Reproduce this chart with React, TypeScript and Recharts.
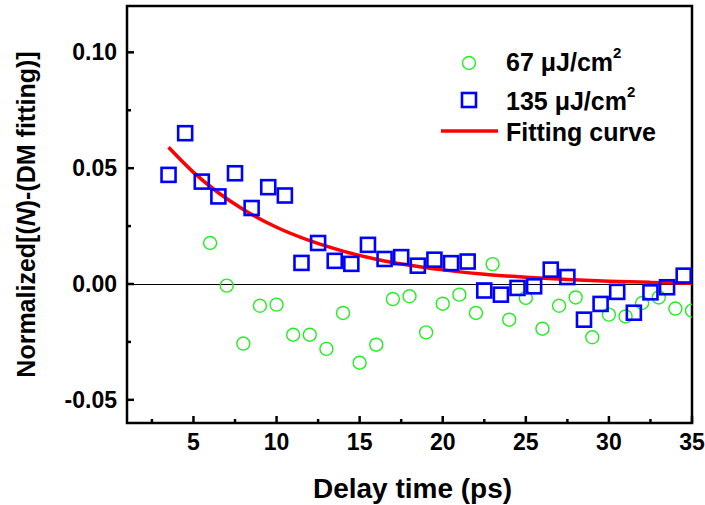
import React from 'react';
import { ComposedChart, XAxis, YAxis, Scatter, Line, ReferenceLine, ReferenceArea, Legend, Label } from 'recharts';

// ---- data ----
const lowFluenceX = [6, 7, 8, 9, 10, 11, 12, 13, 14, 15, 16, 17, 18, 19, 20, 21, 22, 23, 24, 25, 26, 27, 28, 29, 30, 31, 32, 33, 34, 35];
const lowFluenceY = [0.0177, -0.0007, -0.0257, -0.0094, -0.0089, -0.0219, -0.0219, -0.028, -0.0125, -0.034, -0.0262, -0.0065, -0.0053, -0.0209, -0.0085, -0.0046, -0.0125, 0.0086, -0.0154, -0.006, -0.0193, -0.0094, -0.0058, -0.023, -0.0132, -0.014, -0.0082, -0.0058, -0.0106, -0.0115];

const highFluenceX = [3.5, 4.5, 5.5, 6.5, 7.5, 8.5, 9.5, 10.5, 11.5, 12.5, 13.5, 14.5, 15.5, 16.5, 17.5, 18.5, 19.5, 20.5, 21.5, 22.5, 23.5, 24.5, 25.5, 26.5, 27.5, 28.5, 29.5, 30.5, 31.5, 32.5, 33.5, 34.5];
const highFluenceY = [0.0471, 0.0651, 0.0442, 0.0378, 0.0478, 0.0328, 0.0418, 0.0382, 0.0091, 0.0177, 0.01, 0.0087, 0.0169, 0.0108, 0.0116, 0.0079, 0.0105, 0.009, 0.0097, -0.0028, -0.0046, -0.0017, -0.001, 0.0062, 0.003, -0.0154, -0.0086, -0.0034, -0.0124, -0.0036, -0.0014, 0.0036];

const fitX = [3.5, 5, 6.5, 8, 10, 12, 14, 16, 18, 20, 22.5, 25, 27.5, 30, 32.5, 35];
const fitY = [0.059, 0.0482, 0.0394, 0.0322, 0.0245, 0.0187, 0.0142, 0.0107, 0.0081, 0.0061, 0.0042, 0.0029, 0.0019, 0.0012, 0.0007, 0.0003];

const xTicks = [2.5, 5, 7.5, 10, 12.5, 15, 17.5, 20, 22.5, 25, 27.5, 30, 32.5, 35];
const yTicks = [-0.05, -0.025, 0, 0.025, 0.05, 0.075, 0.1];
const xDomain = [1, 35];
const yDomain = [-0.06, 0.12];

const legendLabels = ['67 \u03bcJ/cm', '135 \u03bcJ/cm', 'Fitting curve'];
const xTitle = 'Delay time (ps)';

const zip = (xs: number[], ys: number[]) => xs.map((x, i) => ({ x, y: ys[i] }));
const lowData = zip(lowFluenceX, lowFluenceY);
const highData = zip(highFluenceX, highFluenceY);
const fitData = zip(fitX, fitY);

const FONT = '"Liberation Sans", Arial, Helvetica, sans-serif';
const GREEN = '#22ee22';
const BLUE = '#0000ff';
const RED = '#ff0000';

const isMajorX = (v: number) => Math.abs(v / 5 - Math.round(v / 5)) < 1e-9;
const isMajorY = (v: number) => Math.abs(v * 20 - Math.round(v * 20)) < 1e-9;

const XTick = (props: any) => {
  const { x, y, payload } = props;
  const v = payload.value;
  const major = isMajorX(v);
  return (
    <g>
      <line x1={x} x2={x} y1={y} y2={y - (major ? 7 : 4)} stroke="#000" strokeWidth={2.5} />
      {major && (
        <text x={x} y={y + 27} textAnchor="middle" fontFamily={FONT} fontWeight="bold" fontSize={23} fill="#000">
          {String(v)}
        </text>
      )}
    </g>
  );
};

const YTick = (props: any) => {
  const { x, y, payload } = props;
  const v = payload.value;
  const major = isMajorY(v);
  return (
    <g>
      <line x1={x} x2={x + (major ? 7 : 4)} y1={y} y2={y} stroke="#000" strokeWidth={2.5} />
      {major && (
        <text x={x - 10} y={y + 8} textAnchor="end" fontFamily={FONT} fontWeight="bold" fontSize={23} fill="#000">
          {v.toFixed(2)}
        </text>
      )}
    </g>
  );
};

const CircleShape = (props: any) => {
  const { cx, cy } = props;
  if (cx == null || cy == null) return null;
  return <circle cx={cx} cy={cy} r={6.5} fill="none" stroke={GREEN} strokeWidth={1.4} />;
};

const SquareShape = (props: any) => {
  const { cx, cy } = props;
  if (cx == null || cy == null) return null;
  return <rect x={cx - 7} y={cy - 7} width={14} height={14} fill="none" stroke={BLUE} strokeWidth={2.6} />;
};

const LegendContent = () => (
  <svg width={270} height={115} style={{ display: 'block', overflow: 'visible' }}>
    <circle cx={39} cy={23} r={6.5} fill="none" stroke={GREEN} strokeWidth={1.4} />
    <rect x={32} y={53} width={14} height={14} fill="none" stroke={BLUE} strokeWidth={2.6} />
    <line x1={11} x2={68} y1={91} y2={91} stroke={RED} strokeWidth={3.5} />
    <text x={76} y={31} fontFamily={FONT} fontWeight="bold" fontSize={25} fill="#000">
      {legendLabels[0]}
      <tspan dy={-13} fontSize={15}>2</tspan>
    </text>
    <text x={76} y={70} fontFamily={FONT} fontWeight="bold" fontSize={25} fill="#000">
      {legendLabels[1]}
      <tspan dy={-13} fontSize={15}>2</tspan>
    </text>
    <text x={76} y={101} fontFamily={FONT} fontWeight="bold" fontSize={25} fill="#000">
      {legendLabels[2]}
    </text>
  </svg>
);

const YTitle = (props: any) => {
  const vb = props.viewBox || {};
  const cx = 26;
  const cy = (vb.y || 0) + (vb.height || 0) / 2;
  return (
    <text
      x={cx}
      y={cy}
      transform={`rotate(-90, ${cx}, ${cy})`}
      textAnchor="middle"
      dominantBaseline="central"
      fontFamily={FONT}
      fontWeight="bold"
      fontSize={25}
      fill="#000"
    >
      Normalized[(<tspan fontStyle="italic">N</tspan>)-(DM fitting)]
    </text>
  );
};

const XTitle = (props: any) => {
  const vb = props.viewBox || {};
  const cx = (vb.x || 0) + (vb.width || 0) / 2 + 3;
  return (
    <text x={cx} y={498} textAnchor="middle" fontFamily={FONT} fontWeight="bold" fontSize={28} fill="#000">
      {xTitle}
    </text>
  );
};

export default function App() {
  return (
    <div style={{ position: 'absolute', left: 0, top: 0, background: '#fff' }}>
      <ComposedChart width={705} height={505} margin={{ top: 6, right: 13, bottom: 22, left: 0 }}>
        <XAxis
          type="number"
          dataKey="x"
          domain={xDomain}
          allowDataOverflow
          ticks={xTicks}
          interval={0}
          tickSize={0}
          tickMargin={0}
          tickLine={false}
          axisLine={false}
          height={60}
          tick={(p: any) => <XTick {...p} />}
        >
          <Label content={(p: any) => <XTitle {...p} />} />
        </XAxis>
        <YAxis
          type="number"
          dataKey="y"
          domain={yDomain}
          allowDataOverflow
          ticks={yTicks}
          interval={0}
          tickSize={0}
          tickMargin={0}
          tickLine={false}
          axisLine={false}
          width={127}
          tick={(p: any) => <YTick {...p} />}
        >
          <Label content={(p: any) => <YTitle {...p} />} />
        </YAxis>
        <ReferenceLine y={0} stroke="#000" strokeWidth={1} shapeRendering="crispEdges" />
        <Scatter data={lowData} dataKey="y" shape={(p: any) => <CircleShape {...p} />} isAnimationActive={false} />
        <Scatter data={highData} dataKey="y" shape={(p: any) => <SquareShape {...p} />} isAnimationActive={false} />
        <Line data={fitData} dataKey="y" type="monotone" stroke={RED} strokeWidth={3.5} dot={false} activeDot={false} isAnimationActive={false} />
        <ReferenceArea x1={1} x2={35} y1={-0.06} y2={0.12} fill="none" fillOpacity={0} stroke="#000" strokeWidth={2.5} />
        <Legend
          layout="horizontal"
          verticalAlign="middle"
          align="center"
          wrapperStyle={{ position: 'absolute', left: 430, top: 40, width: 270, height: 115 }}
          content={() => <LegendContent />}
        />
      </ComposedChart>
    </div>
  );
}
